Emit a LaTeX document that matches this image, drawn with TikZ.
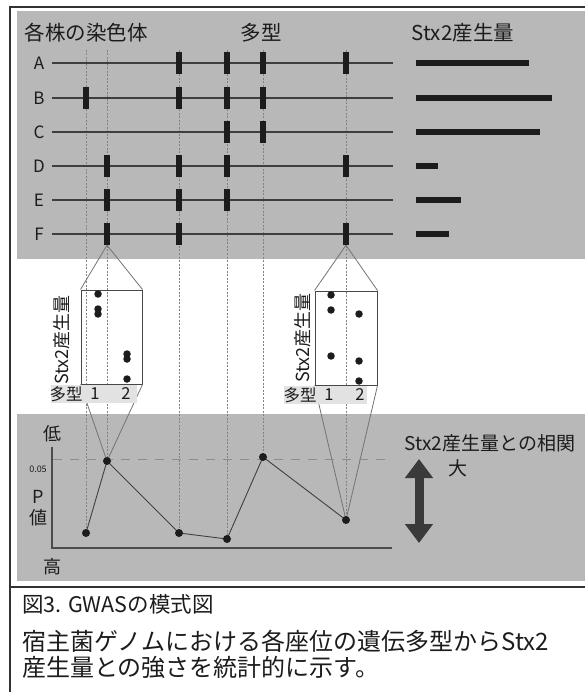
\documentclass[tikz,border=0pt]{standalone}
\usepackage{fontspec}
\setmainfont{Noto Sans CJK JP}
\usetikzlibrary{arrows.meta}
\definecolor{panel}{RGB}{184,184,184}
\definecolor{ink}{RGB}{28,28,28}
\definecolor{bandgray}{RGB}{226,226,226}
\definecolor{guide}{RGB}{130,130,130}
\definecolor{arrowgray}{RGB}{58,58,58}
\definecolor{framec}{RGB}{50,50,50}
\begin{document}
\begin{tikzpicture}[x=1pt,y=-1pt,
  lbl/.style={inner sep=0pt, text=ink},
  hdr/.style={lbl, font=\fontsize{20.5pt}{24pt}\selectfont},
  rowlbl/.style={lbl, font=\fontsize{17pt}{20pt}\selectfont},
  axlbl/.style={lbl, font=\fontsize{18pt}{21pt}\selectfont},
  smalllbl/.style={lbl, font=\fontsize{9pt}{11pt}\selectfont},
  boxlbl/.style={lbl, font=\fontsize{18pt}{21pt}\selectfont},
  bandlbl/.style={lbl, font=\fontsize{16.5pt}{19pt}\selectfont},
  corrlbl/.style={lbl, font=\fontsize{19pt}{22pt}\selectfont},
  caplbl/.style={lbl, anchor=west, font=\fontsize{24pt}{28pt}\selectfont},
  cap1lbl/.style={lbl, anchor=west, font=\fontsize{21.5pt}{25pt}\selectfont},
  snp/.style={rectangle, fill=ink, inner sep=0pt, minimum width=6pt, minimum height=22pt},
  chrom/.style={draw=ink!85, line width=1.3pt},
  stxbar/.style={draw=ink, line width=5.5pt},
  guideline/.style={draw=guide, line width=0.7pt, dash pattern=on 2pt off 1.5pt},
  funnel/.style={draw=black!55, line width=0.8pt},
  boxst/.style={draw=black!72, line width=1pt, rectangle, inner sep=0pt},
  dot/.style={circle, fill=ink, inner sep=0pt, minimum size=8pt},
  axisline/.style={draw=black!70, line width=1.3pt},
  threshold/.style={draw=black!45, line width=1pt, dash pattern=on 9pt off 8pt},
  pline/.style={draw=black!75, line width=0.9pt},
  framest/.style={draw=framec, line width=1.3pt},
  band/.style={fill=bandgray}
]
\useasboundingbox (0,0) rectangle (585,692);

% panels
\fill[panel] (17,11) rectangle (585,259);
\fill[panel] (17,414) rectangle (585,581);
\draw[framest] (586,7) -- (10,7) -- (10,693);
\draw[framest] (10,587) -- (586,587);

% guide tops and P-value points
\coordinate (top1) at (86,50);
\coordinate (top2) at (107,50);
\coordinate (top3) at (179,50);
\coordinate (top4) at (227,50);
\coordinate (top5) at (263,50);
\coordinate (top6) at (346,50);
\coordinate (p1) at (86,533);
\coordinate (p2) at (107,461);
\coordinate (p3) at (179,533);
\coordinate (p4) at (227,539);
\coordinate (p5) at (263,457);
\coordinate (p6) at (346,520);

\foreach \c in {1,...,6} { \draw[guideline] (top\c) -- (p\c); }

% headers
\node[hdr] (h1) at (86,33) {各株の染色体};
\node[hdr] (h2) at (261,33) {多型};
\node[hdr] (h3) at (463,33) {Stx2産生量};

% chromosomes and Stx2 bars
\foreach \r/\y/\len in {A/63/529,B/98/552,C/132/540,D/166/438,E/200/461,F/234/449} {
  \node[rowlbl] (lab\r) at (39,\y) {\r};
  \coordinate (ls\r) at (52,\y);
  \coordinate (le\r) at (393,\y);
  \draw[chrom] (ls\r) -- (le\r);
  \coordinate (bs\r) at (416,\y);
  \coordinate (be\r) at (\len,\y);
  \draw[stxbar] (bs\r) -- (be\r);
}

% polymorphism markers
\foreach \r/\cols in {A/{3,4,5,6},B/{1,3,4,5},C/{4,5},D/{2,3,4,6},E/{2,3,4},F/{2,3,6}} {
  \foreach \c in \cols {
    \node[snp] (m\r\c) at (top\c |- ls\r) {};
  }
}

% zoom boxes
\node[boxst, minimum width=61pt, minimum height=94pt] (box1) at (111.5,337) {};
\node[boxst, minimum width=62pt, minimum height=94pt] (box2) at (346,338) {};

\draw[funnel] (mF2.south) -- (box1.north west);
\draw[funnel] (mF2.south) -- (box1.north east);
\draw[funnel] (box1.south west) -- (p2);
\draw[funnel] (box1.south east) -- (p2);
\draw[funnel] (mF6.south) -- (box2.north west);
\draw[funnel] (mF6.south) -- (box2.north east);
\draw[funnel] (box2.south west) -- (p6);
\draw[funnel] (box2.south east) -- (p6);

% rotated labels
\node[boxlbl, rotate=90] (r1) at (62,340) {Stx2産生量};
\node[boxlbl, rotate=90] (r2) at (303,338) {Stx2産生量};

% bands
\fill[band] (51,385) rectangle (137,403);
\fill[band] (284,386) rectangle (367,404);
\node[bandlbl] (b1a) at (66,394) {多型};
\node[bandlbl] (b1b) at (95,394) {1};
\node[bandlbl] (b1c) at (126,394) {2};
\node[bandlbl] (b2a) at (300,395) {多型};
\node[bandlbl] (b2b) at (329,395) {1};
\node[bandlbl] (b2c) at (360,395) {2};

% box dots
\foreach \n/\x/\y in {a/98/294,b/98/309,c/98/314,d/127/354,e/127/359,f/127/379} {
  \node[dot, minimum size=7.5pt] (d1\n) at (\x,\y) {};
}
\foreach \n/\x/\y in {a/331/295,b/331/310,c/331/356,d/359/314,e/359/361,f/359/381} {
  \node[dot, minimum size=7.5pt] (d2\n) at (\x,\y) {};
}

% P-value plot
\coordinate (ay) at (52,447);
\coordinate (ao) at (52,548);
\coordinate (ax) at (392,548);
\draw[axisline] (ay) -- (ao) -- (ax);
\coordinate (th1) at (53,459);
\coordinate (th2) at (393,459);
\draw[threshold] (th1) -- (th2);
\draw[pline] (p1) -- (p2) -- (p3) -- (p4) -- (p5) -- (p6);
\foreach \c in {1,...,6} { \node[dot] (pd\c) at (p\c) {}; }

\node[axlbl] (low) at (52,434) {低};
\node[axlbl] (high) at (52,567) {高};
\node[smalllbl] (thr) at (38,469) {0.05};
\node[axlbl] (pp) at (38,497) {P};
\node[axlbl] (pv) at (38,518) {値};

% correlation arrow
\coordinate (arT) at (419,459);
\coordinate (arB) at (419,543);
\draw[draw=arrowgray, line width=9pt, {Triangle[length=19pt,width=27pt]}-{Triangle[length=19pt,width=27pt]}] (arT) -- (arB);
\node[corrlbl] (corr) at (490,443) {Stx2産生量との相関};
\node[corrlbl] (big) at (458,468) {大};

% caption
\node[cap1lbl] (cap1) at (22,604) {図3. GWASの模式図};
\node[caplbl] (cap2) at (22,641) {宿主菌ゲノムにおける各座位の遺伝多型からStx2};
\node[caplbl] (cap3) at (22,667) {産生量との強さを統計的に示す。};
\end{tikzpicture}
\end{document}
